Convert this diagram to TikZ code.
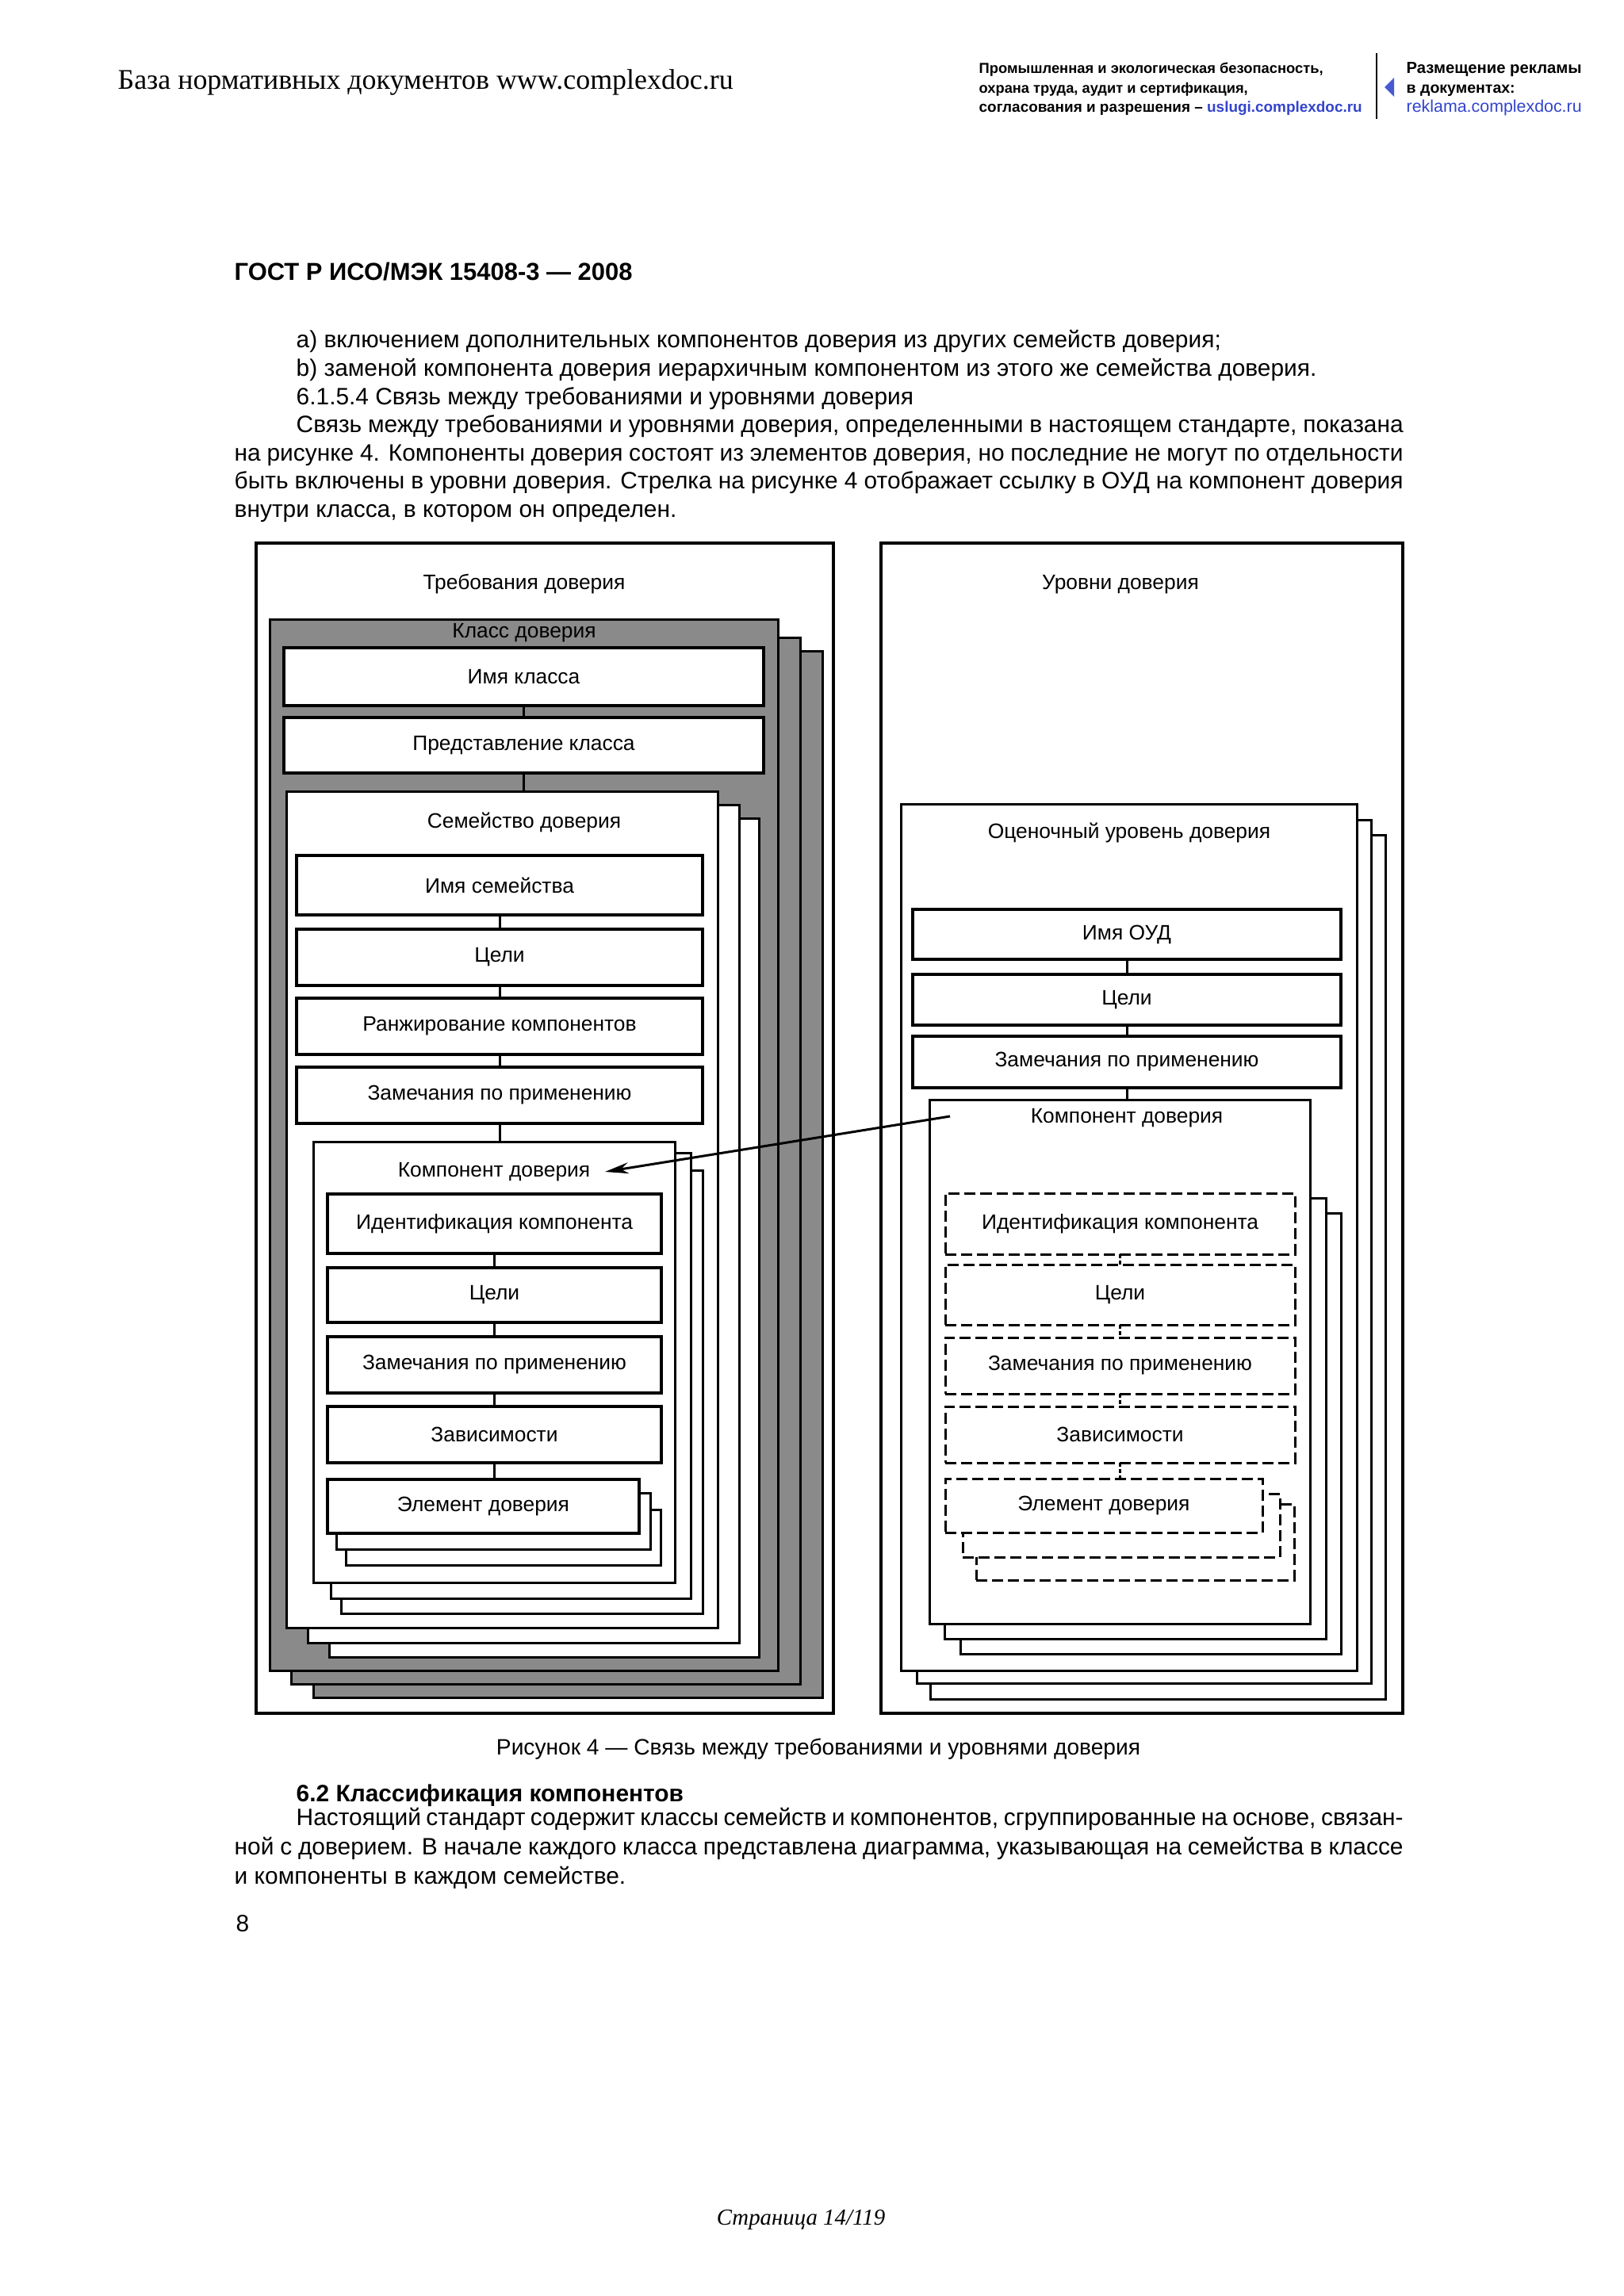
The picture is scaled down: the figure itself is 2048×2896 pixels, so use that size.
\documentclass[tikz,border=0pt]{standalone}
\usepackage{graphicx}
\usepackage{fontspec}
\setmainfont{Liberation Sans}
\newfontfamily\serifft{Liberation Serif}
\usetikzlibrary{arrows.meta}
\newlength\px \setlength\px{0.01cm}
\definecolor{linkblue}{RGB}{51,68,204}
\definecolor{triblue}{RGB}{70,90,210}
\definecolor{classgray}{RGB}{138,138,138}
\newcommand\bnode[7]{\node[#1, minimum width={(#5-#3)*0.01cm}, minimum height={(#6-#4)*0.01cm}] (#2) at ({(#3+#5)/2},{(#4+#6)/2}) {#7};}
\tikzset{
  body/.style={anchor=base west, inner sep=0pt, font=\fontsize{8.5}{10}\selectfont},
  hsm/.style={anchor=base west, inner sep=0pt, font=\fontsize{6}{7}\selectfont\bfseries},
  lbl/.style={inner sep=0pt, font=\fontsize{7.5}{9}\selectfont},
  outerbox/.style={draw, line width=0.04cm, fill=white, inner sep=0pt, outer sep=0pt},
  stk/.style={draw, line width=0.03cm, fill=white, inner sep=0pt, outer sep=0pt},
  gstk/.style={draw, line width=0.03cm, fill=classgray, inner sep=0pt, outer sep=0pt},
  sub/.style={draw, line width=0.04cm, fill=white, inner sep=0pt, outer sep=0pt, font=\fontsize{7.5}{9}\selectfont},
  dsub/.style={draw, line width=0.03cm, dash pattern=on 0.14cm off 0.06cm, fill=white, inner sep=0pt, outer sep=0pt, font=\fontsize{7.5}{9}\selectfont},
  dstk/.style={draw, line width=0.03cm, dash pattern=on 0.14cm off 0.06cm, fill=white, inner sep=0pt, outer sep=0pt},
  conn/.style={line width=0.03cm},
  dconn/.style={line width=0.03cm, dash pattern=on 0.05cm off 0.03cm},
  refarrow/.style={line width=0.03cm, -{Stealth[length=0.3cm,width=0.14cm]}},
}
\begin{document}
\begin{tikzpicture}[x=0.01cm,y=-0.01cm]
\useasboundingbox[fill=white] (0,0) rectangle (2048,2896);

% ---------- page header ----------
\node[anchor=base west, inner sep=0pt] (hdr) at (148,112) {\resizebox{776\px}{!}{\fontsize{10.7}{12}\serifft База нормативных документов www.complexdoc.ru}};
\node[hsm] (h1) at (1234,92) {\resizebox{434\px}{!}{Промышленная и экологическая безопасность,}};
\node[hsm] (h2) at (1234,117) {\resizebox{339\px}{!}{охрана труда, аудит и сертификация,}};
\node[hsm] (h3) at (1234,141) {\resizebox{483\px}{!}{согласования и разрешения – \textcolor{linkblue}{uslugi.complexdoc.ru}}};
\draw[line width=0.02cm] (1736,67) -- (1736,150);
\fill[triblue] (1758,98) -- (1746,110) -- (1758,122) -- cycle;
\node[hsm] (h4) at (1773,92) {\resizebox{221\px}{!}{Размещение рекламы}};
\node[hsm] (h5) at (1773,117) {\resizebox{137\px}{!}{в документах:}};
\node[hsm] (h6) at (1773,141) {\resizebox{221\px}{!}{\mdseries\textcolor{linkblue}{reklama.complexdoc.ru}}};

% ---------- text above ----------
\node[anchor=base west, inner sep=0pt, font=\fontsize{8.8}{10}\selectfont\bfseries] (gost) at (295,353) {ГОСТ Р ИСО/МЭК 15408-3 — 2008};
\node[body] (t1) at (373,438) {а) включением дополнительных компонентов доверия из других семейств доверия;};
\node[body] (t2) at (373,474) {b) заменой компонента доверия иерархичным компонентом из этого же семейства доверия.};
\node[body] (t3) at (373,510) {6.1.5.4 Связь между требованиями и уровнями доверия};
\node[body] (t4) at (373,545) {\makebox[1396\px][s]{Связь между требованиями и уровнями доверия, определенными в настоящем стандарте, показана}};
\node[body] (t5) at (295,581) {\makebox[1474\px][s]{на рисунке 4. Компоненты доверия состоят из элементов доверия, но последние не могут по отдельности}};
\node[body] (t6) at (295,616) {\makebox[1474\px][s]{быть включены в уровни доверия. Стрелка на рисунке 4 отображает ссылку в ОУД на компонент доверия}};
\node[body] (t7) at (295,652) {внутри класса, в котором он определен.};

% ---------- outer frames ----------
\bnode{outerbox}{lout}{323}{685}{1051}{2161}{}
\bnode{outerbox}{rout}{1111}{685}{1769}{2161}{}
\node[lbl] (ltitle) at (661,737) {Требования доверия};
\node[lbl] (rtitle) at (1413,737) {Уровни доверия};

% ---------- left: class stack ----------
\bnode{gstk}{cls3}{395}{821}{1037}{2141}{}
\bnode{gstk}{cls2}{367}{804}{1009}{2124}{}
\bnode{gstk}{cls1}{340}{781}{981}{2107}{}
\node[lbl] (clst) at (661,798) {Класс доверия};
\bnode{sub}{imkl}{358}{817}{963}{890}{Имя класса}
\bnode{sub}{predkl}{358}{905}{963}{975}{Представление класса}

% family stack
\bnode{stk}{fam3}{415}{1032}{957}{2090}{}
\bnode{stk}{fam2}{388}{1015}{932}{2072}{}
\bnode{stk}{fam1}{361}{998}{905}{2053}{}
\node[lbl] (famt) at (661,1037) {Семейство доверия};
\bnode{sub}{fn1}{374}{1079}{886}{1154}{Имя семейства}
\bnode{sub}{fn2}{374}{1172}{886}{1243}{Цели}
\bnode{sub}{fn3}{374}{1259}{886}{1330}{Ранжирование компонентов}
\bnode{sub}{fn4}{374}{1346}{886}{1417}{Замечания по применению}

% component stack (left)
\bnode{stk}{lc3}{430}{1476}{886}{2035}{}
\bnode{stk}{lc2}{417}{1454}{871}{2016}{}
\bnode{stk}{lc1}{395}{1440}{851}{1996}{}
\node[lbl] (lct) at (623,1478) {Компонент доверия};
\bnode{sub}{lk1}{413}{1506}{834}{1581}{Идентификация компонента}
\bnode{sub}{lk2}{413}{1599}{834}{1668}{Цели}
\bnode{sub}{lk3}{413}{1686}{834}{1757}{Замечания по применению}
\bnode{sub}{lk4}{413}{1774}{834}{1845}{Зависимости}
\bnode{stk}{le3}{436}{1904}{833}{1974}{}
\bnode{stk}{le2}{424}{1883}{820}{1954}{}
\bnode{sub}{le1}{413}{1866}{806}{1934}{Элемент доверия}

% left connectors
\draw[conn] (imkl.south) -- (predkl.north);
\draw[conn] (predkl.south) -- (predkl.south |- fam1.north);
\draw[conn] (fn1.south) -- (fn2.north);
\draw[conn] (fn2.south) -- (fn3.north);
\draw[conn] (fn3.south) -- (fn4.north);
\draw[conn] (fn4.south) -- (fn4.south |- lc1.north);
\draw[conn] (lk1.south) -- (lk2.north);
\draw[conn] (lk2.south) -- (lk3.north);
\draw[conn] (lk3.south) -- (lk4.north);
\draw[conn] (lk4.south) -- (lk4.south |- le1.north);

% ---------- right: evaluation level stack ----------
\bnode{stk}{oud3}{1173}{1053}{1747}{2143}{}
\bnode{stk}{oud2}{1156}{1034}{1729}{2123}{}
\bnode{stk}{oud1}{1136}{1014}{1711}{2107}{}
\node[lbl] (oudt) at (1424,1050) {Оценочный уровень доверия};
\bnode{sub}{ro1}{1151}{1147}{1691}{1210}{Имя ОУД}
\bnode{sub}{ro2}{1151}{1229}{1691}{1293}{Цели}
\bnode{sub}{ro3}{1151}{1307}{1691}{1372}{Замечания по применению}

% component stack (right)
\bnode{stk}{rc3}{1211}{1530}{1691}{2086}{}
\bnode{stk}{rc2}{1191}{1511}{1672}{2067}{}
\bnode{stk}{rc1}{1172}{1387}{1652}{2048}{}
\node[lbl] (rct) at (1421,1410) {Компонент доверия};
\bnode{dsub}{rk1}{1192}{1505}{1633}{1582}{Идентификация компонента}
\bnode{dsub}{rk2}{1192}{1595}{1633}{1671}{Цели}
\bnode{dsub}{rk3}{1192}{1687}{1633}{1758}{Замечания по применению}
\bnode{dsub}{rk4}{1192}{1774}{1633}{1845}{Зависимости}
\bnode{dstk}{re3}{1231}{1897}{1632}{1993}{}
\bnode{dstk}{re2}{1214}{1884}{1614}{1964}{}
\bnode{dsub}{re1}{1192}{1865}{1592}{1933}{Элемент доверия}

% right connectors
\draw[conn] (ro1.south) -- (ro2.north);
\draw[conn] (ro2.south) -- (ro3.north);
\draw[conn] (ro3.south) -- (ro3.south |- rc1.north);
\draw[dconn] (rk1.south) -- (rk2.north);
\draw[dconn] (rk2.south) -- (rk3.north);
\draw[dconn] (rk3.south) -- (rk4.north);
\draw[dconn] (rk4.south) -- (rk4.south |- re1.north);

% reference arrow
\coordinate (astart) at (1198,1408);
\draw[refarrow] (astart) -- ([xshift=0.18cm]lct.east);

% ---------- caption and text below ----------
\node[anchor=base, inner sep=0pt, font=\fontsize{8}{10}\selectfont] (cap) at (1032,2213) {Рисунок 4 — Связь между требованиями и уровнями доверия};
\node[body, font=\fontsize{8.5}{10}\selectfont\bfseries] (s62) at (373,2272) {6.2 Классификация компонентов};
\node[body] (b1) at (373,2302) {\makebox[1396\px][s]{Настоящий стандарт содержит классы семейств и компонентов, сгруппированные на основе, связан-}};
\node[body] (b2) at (295,2339) {\makebox[1474\px][s]{ной с доверием. В начале каждого класса представлена диаграмма, указывающая на семейства в классе}};
\node[body] (b3) at (295,2376) {и компоненты в каждом семействе.};
\node[body] (pg) at (297,2436) {8};

% footer
\node[anchor=base, inner sep=0pt, font=\fontsize{8.2}{10}\serifft\itshape] (foot) at (1010,2806) {Страница 14/119};
\end{tikzpicture}
\end{document}
